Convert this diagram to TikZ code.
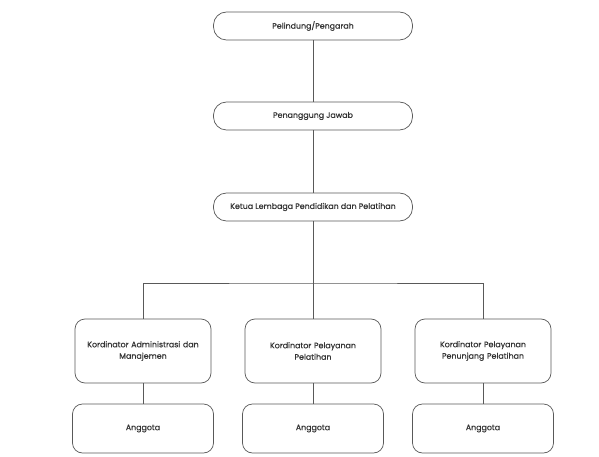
\documentclass[tikz,border=0pt]{standalone}
\usepackage{fontspec}
\newfontfamily\boxfont{Poppins}[FakeBold=0.5]
\begin{document}
\begin{tikzpicture}[x=1pt,y=-1pt,
  box/.style={draw=black!65, line width=0.7pt, rounded corners=10pt, align=center, inner sep=0pt,
    font=\boxfont\fontsize{7.9}{11.5}\selectfont, text=black!80},
  topbox/.style={box, rounded corners=13pt, minimum width=199pt, minimum height=28pt},
  kbox/.style={box, minimum width=136pt, minimum height=64pt, text width=132pt},
  abox/.style={box, minimum width=141pt, minimum height=49pt},
  conn/.style={draw=black!65, line width=0.7pt}]
\fill[white] (0,0) rectangle (599,457);
\useasboundingbox (0,0) rectangle (599,457);
\node[topbox] (p) at (313,26) {Pelindung/Pengarah};
\node[topbox] (pj) at (313,116) {Penanggung Jawab};
\node[topbox] (k) at (313,207) {Ketua Lembaga Pendidikan dan Pelatihan};
\node[kbox] (k1) at (143,351) {Kordinator Administrasi dan\\Manajemen};
\node[kbox] (k2) at (313,351) {Kordinator Pelayanan\\Pelatihan};
\node[kbox] (k3) at (483,351) {Kordinator Pelayanan\\Penunjang Pelatihan};
\node[abox] (a1) at (143,428.5) {Anggota};
\node[abox] (a2) at (313,428.5) {Anggota};
\node[abox] (a3) at (483,428.5) {Anggota};
\coordinate (h) at (313,283);
\draw[conn] (p) -- (pj);
\draw[conn] (pj) -- (k);
\draw[conn] (k) -- (k2);
\draw[conn] (k1.north) |- (h) -| (k3.north);
\draw[conn] (k1) -- (a1);
\draw[conn] (k2) -- (a2);
\draw[conn] (k3) -- (a3);
\end{tikzpicture}
\end{document}
